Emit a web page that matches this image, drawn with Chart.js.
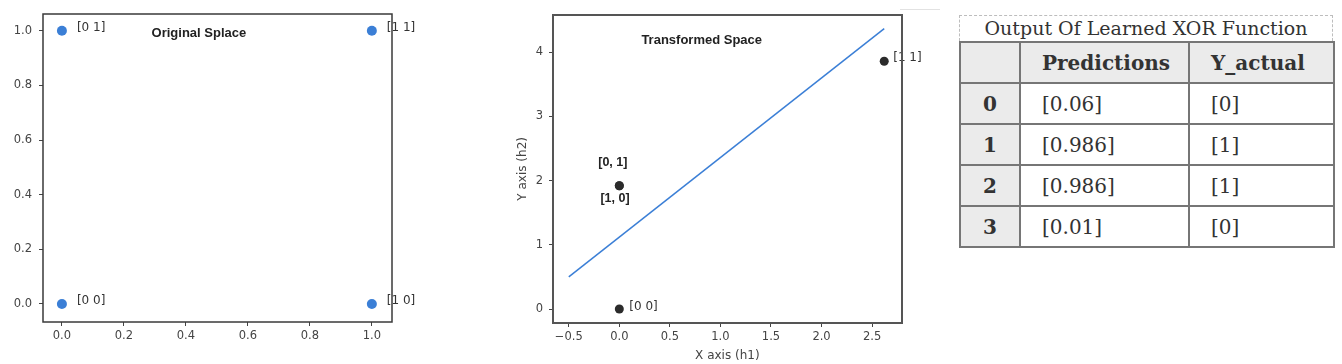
<!DOCTYPE html>
<html>
<head>
<meta charset="utf-8">
<script src="https://cdn.jsdelivr.net/npm/chart.js@4.4.1/dist/chart.umd.min.js"></script>
<style>
  body { margin: 0; background: #fff; width: 1342px; height: 364px; overflow: hidden; position: relative; }
  #left { position: absolute; left: 0; top: 0; }
  #mid { position: absolute; left: 500px; top: 0; }
  #rule { position: absolute; left: 900px; top: 9px; width: 40px; height: 1px; background: #e2e2e2; }
  #xorBox { position: absolute; left: 959px; top: 15px; width: 374px; font-family: "DejaVu Serif", serif; color: #333; }
  #xorCaption { height: 25px; line-height: 25px; border: 1px dashed #bdbdbd; border-bottom: none; text-align: center; font-size: 19px; box-sizing: content-box; width: 372px; }
  #xorTable { border-collapse: collapse; width: 374px; table-layout: fixed; font-size: 20px; }
  #xorTable td, #xorTable th { border: 2px solid #767676; height: 39px; padding: 0 0 0 21px; text-align: left; vertical-align: middle; }
  #xorTable th { background: #ebebeb; font-weight: bold; }
  #xorTable td.idx { background: #ebebeb; font-weight: bold; text-align: center; padding: 0; }
</style>
</head>
<body>
<canvas id="left" width="440" height="364"></canvas>
<canvas id="mid" width="450" height="364"></canvas>
<div id="rule"></div>
<div id="xorBox">
  <div id="xorCaption">Output Of Learned XOR Function</div>
  <table id="xorTable"></table>
</div>
<script>
// original space inputs
const origX = [0, 0, 1, 1];
const origY = [0, 1, 0, 1];
const origLabels = ['[0 0]', '[0 1]', '[1 0]', '[1 1]'];
const origTicks = [0, 0.2, 0.4, 0.6, 0.8, 1.0];

// hidden layer output (h1, h2)
const transX = [0, 0, 0, 2.62];
const transY = [0, 1.92, 1.92, 3.86];
const transLabels = ['[0 0]', '[0, 1]', '[1, 0]', '[1 1]'];
const boundaryX = [-0.5, 2.62];
const boundaryY = [0.5, 4.37];
const transXTicks = [-0.5, 0, 0.5, 1.0, 1.5, 2.0, 2.5];
const transYTicks = [0, 1, 2, 3, 4];

// table values
const tableHead = ['', 'Predictions', 'Y_actual'];
const rowIdx = ['0', '1', '2', '3'];
const predictions = ['[0.06]', '[0.986]', '[0.986]', '[0.01]'];
const yActual = ['[0]', '[1]', '[1]', '[0]'];

const tickFont = { family: 'DejaVu Sans', size: 11.5 };
const tickColor = '#444';

// draws a box round the plot like matplotlib
const framePlugin = {
    id: 'frame',
    afterDraw(chart, args, opts) {
        const a = chart.chartArea;
        const ctx = chart.ctx;
        ctx.save();
        ctx.strokeStyle = opts.color || '#444';
        ctx.lineWidth = opts.width || 1;
        ctx.strokeRect(Math.round(a.left), Math.round(a.top), Math.round(a.right - a.left), Math.round(a.bottom - a.top));
        ctx.restore();
    }
};

// text next to points + title inside the plot
const labelPlugin = {
    id: 'pointText',
    afterDatasetsDraw(chart, args, opts) {
        const ctx = chart.ctx;
        const meta = chart.getDatasetMeta(0);
        ctx.save();
        ctx.textBaseline = 'middle';
        meta.data.forEach((pt, i) => {
            const st = opts.styles[i];
            ctx.font = st.font;
            ctx.fillStyle = st.color;
            ctx.textAlign = st.align;
            ctx.fillText(opts.labels[i], pt.x + st.dx, pt.y + st.dy);
        });
        if (opts.title) {
            const t = opts.title;
            ctx.font = 'bold 13px "Liberation Sans"';
            ctx.fillStyle = '#222';
            ctx.textAlign = 'center';
            ctx.fillText(t.text, chart.scales.x.getPixelForValue(t.x), chart.scales.y.getPixelForValue(t.y));
        }
        ctx.restore();
    }
};

function fixedTicks(arr) {
    return scale => { scale.ticks = arr.map(v => ({ value: v })); };
}

function axisGrid() {
    return { display: true, drawOnChartArea: false, drawTicks: true, tickLength: 4, color: tickColor, lineWidth: 1 };
}

// left: original space
new Chart(document.getElementById('left'), {
    type: 'scatter',
    data: {
        datasets: [{
            data: origX.map((x, i) => ({ x: x, y: origY[i] })),
            backgroundColor: '#3b7fd6',
            borderWidth: 0,
            pointRadius: 5,
            pointHoverRadius: 5
        }]
    },
    plugins: [framePlugin, labelPlugin],
    options: {
        responsive: false,
        animation: false,
        layout: { padding: { left: 0, top: 13, right: 48, bottom: 0 } },
        scales: {
            x: {
                type: 'linear', min: -0.061, max: 1.065,
                afterBuildTicks: fixedTicks(origTicks),
                afterFit: s => { s.height = 42; },
                ticks: { font: tickFont, color: tickColor, padding: 3, maxRotation: 0, callback: v => v.toFixed(1) },
                grid: axisGrid(),
                border: { display: false }
            },
            y: {
                type: 'linear', min: -0.066, max: 1.062,
                afterBuildTicks: fixedTicks(origTicks),
                afterFit: s => { s.width = 43; },
                ticks: { font: tickFont, color: tickColor, padding: 7, callback: v => v.toFixed(1) },
                grid: axisGrid(),
                border: { display: false }
            }
        },
        plugins: {
            legend: { display: false },
            tooltip: { enabled: false },
            frame: { color: '#3a3a3a', width: 1.5 },
            pointText: {
                labels: origLabels,
                styles: origLabels.map(() => ({ dx: 15, dy: -3, align: 'left', font: '12px "DejaVu Sans"', color: '#333' })),
                title: { text: 'Original Splace', x: 0.442, y: 0.99 }
            }
        }
    }
});

// middle: transformed space with the separating line
const boldLbl = '12.5px "Liberation Sans"';
new Chart(document.getElementById('mid'), {
    type: 'scatter',
    data: {
        datasets: [{
            data: transX.map((x, i) => ({ x: x, y: transY[i] })),
            backgroundColor: '#2b2b2b',
            borderWidth: 0,
            pointRadius: 4.5,
            pointHoverRadius: 4.5
        }, {
            type: 'line',
            data: boundaryX.map((x, i) => ({ x: x, y: boundaryY[i] })),
            borderColor: '#3b7fd6',
            borderWidth: 1.5,
            pointRadius: 0,
            fill: false
        }]
    },
    plugins: [framePlugin, labelPlugin],
    options: {
        responsive: false,
        animation: false,
        layout: { padding: { left: 0, top: 14.7, right: 48.3, bottom: 0 } },
        scales: {
            x: {
                type: 'linear', min: -0.656, max: 2.793,
                afterBuildTicks: fixedTicks(transXTicks),
                afterFit: s => { s.height = 41; },
                ticks: { font: tickFont, color: tickColor, padding: 3, maxRotation: 0, callback: v => v.toFixed(1).replace('-', '\u2212') },
                grid: axisGrid(),
                border: { display: false },
                title: { display: true, text: 'X axis (h1)', color: tickColor, font: { family: 'DejaVu Sans', size: 12 }, padding: { top: 0, bottom: 1 } }
            },
            y: {
                type: 'linear', min: -0.218, max: 4.586,
                afterBuildTicks: fixedTicks(transYTicks),
                afterFit: s => { s.width = 53; },
                ticks: { font: tickFont, color: tickColor, padding: 6, callback: v => String(v) },
                grid: axisGrid(),
                border: { display: false },
                title: { display: true, text: 'Y axis (h2)', color: tickColor, font: { family: 'DejaVu Sans', size: 12 }, padding: { top: 16, bottom: 0 } }
            }
        },
        plugins: {
            legend: { display: false },
            tooltip: { enabled: false },
            frame: { color: '#555', width: 2 },
            pointText: {
                labels: transLabels,
                styles: [
                    { dx: 10, dy: -2.5, align: 'left', font: '12px "DejaVu Sans"', color: '#333' },
                    { dx: -6.5, dy: -23, align: 'center', font: 'bold ' + boldLbl, color: '#222' },
                    { dx: -4.3, dy: 13, align: 'center', font: 'bold ' + boldLbl, color: '#222' },
                    { dx: 9, dy: -3, align: 'left', font: '12px "DejaVu Sans"', color: '#333' }
                ],
                title: { text: 'Transformed Space', x: 0.815, y: 4.185 }
            }
        }
    }
});

// right: results table
const table = document.getElementById('xorTable');
let html = '<colgroup><col style="width:60px"><col style="width:169px"><col style="width:145px"></colgroup><tr>';
tableHead.forEach(h => { html += '<th>' + h + '</th>'; });
html += '</tr>';
rowIdx.forEach((r, i) => {
    html += '<tr><td class="idx">' + r + '</td><td>' + predictions[i] + '</td><td>' + yActual[i] + '</td></tr>';
});
table.innerHTML = html;
</script>
</body>
</html>
